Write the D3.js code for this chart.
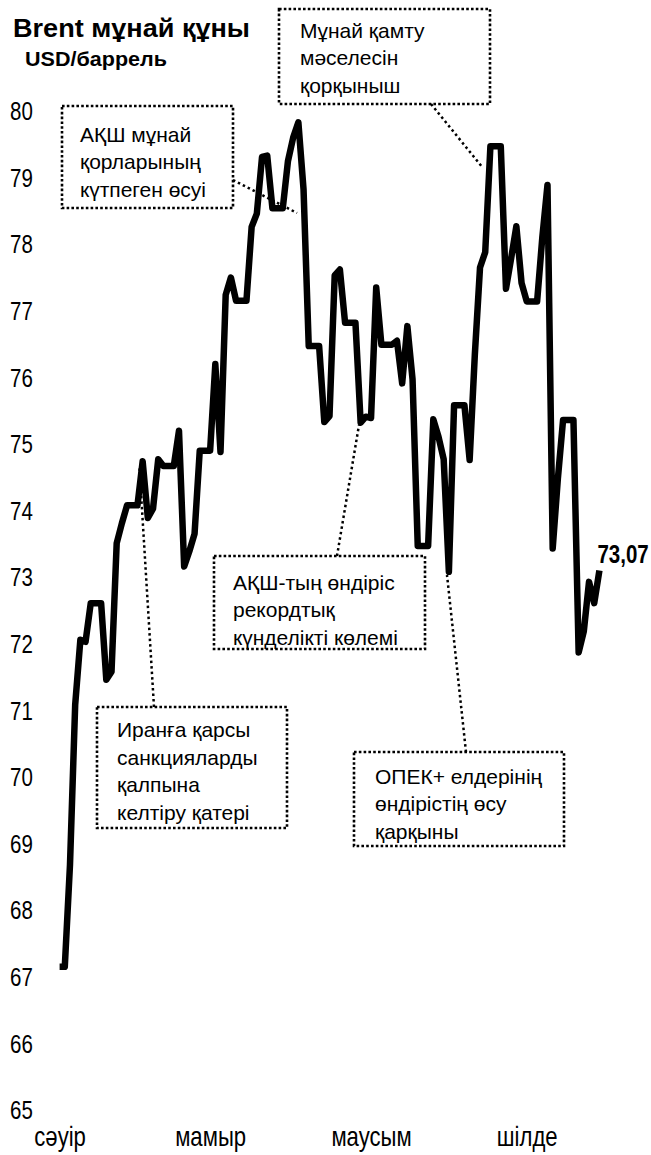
<!DOCTYPE html>
<html>
<head>
<meta charset="utf-8">
<script src="https://cdn.jsdelivr.net/npm/d3@7"></script>
<style>
  body { margin: 0; background: #fff; }
  text { font-family: 'Liberation Sans', Arial, sans-serif; fill: #000; }
</style>
</head>
<body>
<div id="vis"></div>
<script>
// daily Brent close, weekends carry the Friday value
const startDate = '2018-04-07';
const aprilPrices = [67.12, 67.12, 68.65, 71.05, 72.03, 72.00, 72.58, 72.58, 72.58, 71.43,
    71.55, 73.48, 73.78, 74.05, 74.05, 74.05, 74.71, 73.86, 74.00, 74.74, 74.64, 74.64, 74.64, 75.17];
const mayPrices = [73.13, 73.36, 73.62, 74.87, 74.87, 74.87, 76.17, 74.85, 77.21, 77.47,
    77.12, 77.12, 77.12, 78.23, 78.43, 79.28, 79.30, 78.51, 78.51, 78.51, 79.22, 79.57,
    79.80, 78.79, 76.44, 76.44, 76.44, 75.30, 75.39, 77.50, 77.59];
const junePrices = [76.79, 76.79, 76.79, 75.29, 75.38, 75.36, 77.32, 76.46, 76.46, 76.46,
    76.52, 75.88, 76.74, 75.94, 73.44, 73.44, 73.44, 75.34, 75.08, 74.74, 73.05, 75.55,
    75.55, 75.55, 74.73, 76.31, 77.62, 77.85, 79.44, 79.44];
const julyPrices = [79.44, 77.30, 77.76, 78.24, 77.39, 77.11, 77.11, 77.11, 78.07, 78.86,
    73.40, 74.45, 75.33, 75.33, 75.33, 71.84, 72.16, 72.90, 72.58, 73.07];

const yTicks = [65, 66, 67, 68, 69, 70, 71, 72, 73, 74, 75, 76, 77, 78, 79, 80];
const monthLabels = ['сәуір', 'мамыр', 'маусым', 'шілде'];
const monthLabelDates = ['2018-04-07', '2018-05-06', '2018-06-06', '2018-07-06'];

const titleText = 'Brent мұнай құны';
const unitText = 'USD/баррель';

const noteTexts = [
    ['АҚШ мұнай', 'қорларының', 'күтпеген өсуі'],
    ['Мұнай қамту', 'мәселесін', 'қорқыныш'],
    ['АҚШ-тың өндіріс', 'рекордтық', 'күнделікті көлемі'],
    ['Иранға қарсы', 'санкцияларды', 'қалпына', 'келтіру қатері'],
    ['ОПЕК+ елдерінің', 'өндірістің өсу', 'қарқыны']
];

// layout of the callout boxes: [x0, y0, x1, y1], text x, first baseline, leader line
const noteLayout = [
    { box: [62, 106, 233, 208], tx: 80, ty: 141.7, leader: [[233, 180], [297, 213]] },
    { box: [279, 9, 490, 104], tx: 300, ty: 37.5, leader: [[431, 104], [483, 168]] },
    { box: [214, 556, 425, 649], tx: 233, ty: 589.5, leader: [[337, 556], [359, 425]] },
    { box: [97, 707, 287, 828], tx: 117, ty: 737, leader: [[154, 707], [139.5, 468]] },
    { box: [354, 752, 564, 846], tx: 375, ty: 783.5, leader: [[466, 752], [447, 575]] }
];

const dimensions = { width: 651, height: 1155 };
const narrow = 'scale(0.82,1)';

const parseDate = d3.timeParse('%Y-%m-%d');
const start = parseDate(startDate);
const prices = aprilPrices.concat(mayPrices, junePrices, julyPrices);
const data = prices.map((v, i) => ({ date: d3.timeDay.offset(start, i), value: v }));

const wrapper = d3.select('#vis')
    .append('svg')
    .attr('width', dimensions.width)
    .attr('height', dimensions.height);

const xScale = d3.scaleTime()
    .domain(d3.extent(data, d => d.date))
    .range([59.6, 599.4]);

const yScale = d3.scaleLinear()
    .domain([65, 80])
    .range([1108, 109]);

// y labels
const yAxis = wrapper.append('g')
    .attr('transform', 'translate(10,2)')
    .call(d3.axisLeft(yScale).tickValues(yTicks).tickSize(0).tickPadding(0));
yAxis.select('.domain').remove();
yAxis.selectAll('text')
    .attr('x', 0)
    .attr('dy', '0.35em')
    .attr('text-anchor', 'start')
    .attr('transform', narrow)
    .style('font-size', '25px')
    .attr('fill', '#000');

// month labels
const xAxis = wrapper.append('g')
    .attr('transform', 'translate(0,1146)')
    .call(d3.axisBottom(xScale)
        .tickValues(monthLabelDates.map(parseDate))
        .tickFormat((d, i) => monthLabels[i])
        .tickSize(0).tickPadding(0));
xAxis.select('.domain').remove();
xAxis.selectAll('text')
    .attr('y', 0)
    .attr('dy', 0)
    .attr('transform', narrow)
    .style('font-size', '27px')
    .attr('fill', '#000');

// callouts
const notes = wrapper.append('g');
noteLayout.forEach((n, i) => {
    notes.append('path')
        .attr('d', d3.line()(n.leader))
        .attr('fill', 'none')
        .attr('stroke', '#000')
        .attr('stroke-width', 2.5)
        .attr('stroke-dasharray', '2.5 3');
    notes.append('rect')
        .attr('x', n.box[0])
        .attr('y', n.box[1])
        .attr('width', n.box[2] - n.box[0])
        .attr('height', n.box[3] - n.box[1])
        .attr('fill', 'none')
        .attr('stroke', '#000')
        .attr('stroke-width', 2.6)
        .attr('stroke-dasharray', '2.6 2.2');
    notes.append('text')
        .style('font-size', '21px')
        .selectAll('tspan')
        .data(noteTexts[i])
        .join('tspan')
        .attr('x', n.tx)
        .attr('y', (d, j) => n.ty + j * 27.6)
        .text(d => d);
});

// price line
wrapper.append('path')
    .datum(data)
    .attr('fill', 'none')
    .attr('stroke', '#000')
    .attr('stroke-width', 6.5)
    .attr('stroke-linejoin', 'round')
    .attr('d', d3.line()
        .x(d => xScale(d.date))
        .y(d => yScale(d.value)));

// last value
const last = data[data.length - 1];
const commaFormat = d3.formatLocale({ decimal: ',', thousands: ' ', grouping: [3], currency: ['', ''] }).format('.2f');
wrapper.append('g')
    .attr('transform', `translate(${xScale(last.date) - 2},${yScale(last.value) - 8})`)
    .append('text')
    .attr('transform', narrow)
    .style('font-size', '25px')
    .style('font-weight', 'bold')
    .text(commaFormat(last.value));

// title
wrapper.append('text')
    .attr('x', 13)
    .attr('y', 36.7)
    .attr('textLength', 237)
    .attr('lengthAdjust', 'spacingAndGlyphs')
    .style('font-size', '25px')
    .style('font-weight', 'bold')
    .text(titleText);
wrapper.append('text')
    .attr('x', 25)
    .attr('y', 65.7)
    .attr('textLength', 142)
    .attr('lengthAdjust', 'spacingAndGlyphs')
    .style('font-size', '21px')
    .style('font-weight', 'bold')
    .text(unitText);
</script>
</body>
</html>
